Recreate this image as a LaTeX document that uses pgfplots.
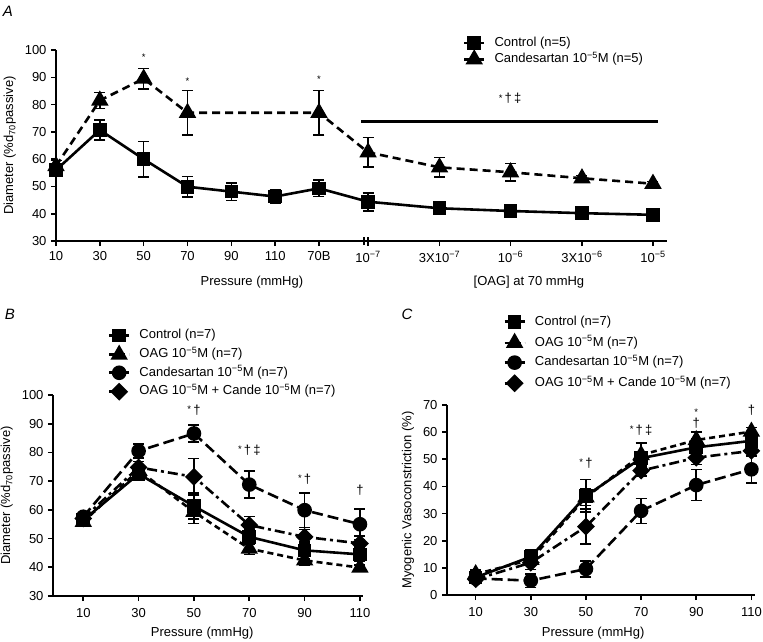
\documentclass[border=0pt]{standalone}
\usepackage{fontspec}
\setmainfont{Liberation Sans}
\usepackage{pgfplots}
\pgfplotsset{compat=1.18}
\newcommand\fz{\fontsize{13}{15}\selectfont}
\newcommand\sm{\fontsize{9.5}{10}\selectfont}
\newcommand\sus[1]{\textsuperscript{−#1}}
\newcommand\st{{\sm\raisebox{1.5pt}{*}}}
\pgfplotsset{
  panel/.style={scale only axis, axis lines=left, axis line style={-, line width=1.6pt},
    tick align=outside, major tick length=5pt, tick style={line width=1.6pt, black},
    clip=false, /pgf/number format/assume math mode=true,
    tick label style={font=\fz}, label style={font=\fz},
    legend cell align=left,
    legend style={draw=none, fill=none, inner sep=0pt, outer sep=0pt, font=\fz, anchor=north west,
      column sep=9pt, nodes={inner sep=0pt, text height=9.5pt, text depth=3pt}},
    legend image code/.code={
      \draw[mark repeat=2,mark phase=2,##1] plot coordinates {(0pt,0pt) (10pt,0pt) (20pt,0pt)};
    },
    every axis plot/.append style={black, line width=2.6pt, line cap=butt},
    error bars/y dir=both, error bars/y explicit,
    error bars/error bar style={line width=1.6pt, solid},
    error bars/error mark options={line width=1.6pt, mark size=5.5pt, solid, rotate=90},
  },
  ctrl/.style={solid, mark=square*, mark size=5.5pt, mark options={solid}},
  tri/.style={dash pattern=on 6pt off 4pt, mark=triangle*, mark size=7.5pt, mark options={solid}},
  triA/.style={dash pattern=on 8pt off 5pt, mark=triangle*, mark size=7.5pt, mark options={solid}},
  circ/.style={dash pattern=on 11pt off 5pt, mark=*, mark size=6pt, mark options={solid}},
  diam/.style={dash pattern=on 10pt off 4pt on 3pt off 4pt, mark=square*, mark size=5pt, mark options={solid, rotate=45}},
}
\begin{document}
\fz
\begin{tikzpicture}
\useasboundingbox (0,0) rectangle (763pt,-641pt);
\node[font=\fontsize{15}{17}\selectfont\itshape] at (8pt,-11pt) {A};
\node[font=\fontsize{15}{17}\selectfont\itshape] at (10pt,-314pt) {B};
\node[font=\fontsize{15}{17}\selectfont\itshape] at (407pt,-314pt) {C};

% ---------------- Panel A ----------------
\begin{axis}[panel, at={(56pt,-241pt)}, anchor=south west, width=611pt, height=191pt,
  xmin=0, xmax=13.94, ymin=30, ymax=100, ytick={30,40,...,100},
  xtick={0,1,2,3,4,5,6,7.12,8.75,10.37,12,13.62},
  xticklabels={10,30,50,70,90,110,70B,10\sus{7},3X10\sus{7},10\sus{6},3X10\sus{6},10\sus{5}},
  xticklabel shift=1pt,
  ylabel={Diameter (\%d\textsubscript{70}passive)},
  legend style={at={(0.666,1.069)}, row sep=2.5pt}]
\addplot[ctrl] coordinates {
 (0,56) +- (0,2) (1,70.7) +- (0,3.7) (2,60) +- (0,6.5) (3,49.9) +- (0,3.7)
 (4,48.1) +- (0,3.2) (5,46.3) +- (0,2.5) (6,49.3) +- (0,3) (7.12,44.4) +- (0,3.3)
 (8.75,42) +- (0,1.7) (10.37,41) +- (0,0.8) (12,40.2) +- (0,0.6) (13.62,39.6) +- (0,0.6)};
\addlegendentry{Control (n=5)}
\addplot[triA] coordinates {
 (0,57.5) +- (0,2) (1,81.5) +- (0,3) (2,89.5) +- (0,3.7) (3,77) +- (0,8.1)
 (6,77) +- (0,8.1) (7.12,62.5) +- (0,5.4) (8.75,57) +- (0,3.6) (10.37,55.2) +- (0,3.2)
 (12,53) +- (0,1) (13.62,51) +- (0,0.8)};
\addlegendentry{Candesartan 10\sus{5}M (n=5)}
\draw[line width=3pt] (axis cs:6.96,73.7) -- (axis cs:13.74,73.7);
\node[font=\sm] at (axis cs:2,97.5) {*};
\node[font=\sm] at (axis cs:3,88.7) {*};
\node[font=\sm] at (axis cs:6,89.2) {*};
\node at (axis cs:10.36,82.3) {\st\,†\,‡};
\draw[line width=1.6pt] ([yshift=-4pt]axis cs:7.03,30) -- ([yshift=4pt]axis cs:7.03,30);
\draw[line width=1.6pt] ([yshift=-4pt]axis cs:7.12,30) -- ([yshift=4pt]axis cs:7.12,30);
\node at (axis cs:4.47,30) [yshift=-41pt] {Pressure (mmHg)};
\node at (axis cs:10.79,30) [yshift=-41pt] {[OAG] at 70 mmHg};
\end{axis}

% ---------------- Panel B ----------------
\begin{axis}[panel, at={(53pt,-596pt)}, anchor=south west, width=310pt, height=201pt,
  xmin=-0.94, xmax=111.1, ymin=30, ymax=100, ytick={30,40,...,100},
  xtick={10,30,...,110}, xticklabel shift=3pt,
  ylabel={Diameter (\%d\textsubscript{70}passive)},
  legend style={at={(0.177,1.328)}, row sep=5.6pt}]
\addplot[ctrl] coordinates {
 (10,56.4) +- (0,1.5) (30,72.5) +- (0,2) (50,61.3) +- (0,4.5) (70,50.6) +- (0,2.5)
 (90,45.9) +- (0,3) (110,44.5) +- (0,2.5)};
\addlegendentry{Control (n=7)}
\addplot[tri] coordinates {
 (10,55.8) +- (0,1.5) (30,73.8) +- (0,2) (50,59.3) +- (0,4) (70,46.5) +- (0,2)
 (90,42.4) +- (0,1.5) (110,39.9) +- (0,1)};
\addlegendentry{OAG 10\sus{5}M (n=7)}
\addplot[circ] coordinates {
 (10,57.6) +- (0,1.5) (30,80.5) +- (0,2.5) (50,86.6) +- (0,3) (70,68.8) +- (0,4.7)
 (90,59.9) +- (0,6) (110,55) +- (0,5.3)};
\addlegendentry{Candesartan 10\sus{5}M (n=7)}
\addplot[diam] coordinates {
 (10,57) +- (0,1.5) (30,74.8) +- (0,2) (50,71.5) +- (0,6.4) (70,54.7) +- (0,3)
 (90,50.6) +- (0,2.5) (110,48.3) +- (0,2.5)};
\addlegendentry{OAG 10\sus{5}M + Cande 10\sus{5}M (n=7)}
\node at (axis cs:50,94.8) {\st\,†};
\node at (axis cs:70,80.8) {\st\,†\,‡};
\node at (axis cs:90,70.7) {\st\,†};
\node at (axis cs:110,67) {†};
\node at (axis cs:53,30) [yshift=-37pt] {Pressure (mmHg)};
\end{axis}

% ---------------- Panel C ----------------
\begin{axis}[panel, at={(447pt,-595pt)}, anchor=south west, width=307.7pt, height=190pt,
  xmin=-0.4, xmax=111.2, ymin=0, ymax=70, ytick={0,10,...,70},
  xtick={10,30,...,110}, xticklabel shift=3pt,
  ylabel={Myogenic Vasoconstriction (\%)},
  legend style={at={(0.183,1.471)}, row sep=7.3pt}]
\addplot[ctrl] coordinates {
 (10,6.5) +- (0,1.5) (30,14.1) +- (0,2.7) (50,36.5) +- (0,6) (70,50.4) +- (0,2.5)
 (90,54.4) +- (0,3) (110,56.8) +- (0,2)};
\addlegendentry{Control (n=7)}
\addplot[tri] coordinates {
 (10,7.7) +- (0,1.5) (30,13) +- (0,2) (50,36) +- (0,3) (70,51.6) +- (0,4.5)
 (90,57.1) +- (0,3) (110,60.2) +- (0,1.5)};
\addlegendentry{OAG 10\sus{5}M (n=7)}
\addplot[circ] coordinates {
 (10,6.1) +- (0,1.5) (30,5.3) +- (0,2.5) (50,9.6) +- (0,3) (70,31) +- (0,4.6)
 (90,40.5) +- (0,5.7) (110,46.3) +- (0,5)};
\addlegendentry{Candesartan 10\sus{5}M (n=7)}
\addplot[diam] coordinates {
 (10,5.8) +- (0,1.5) (30,11.9) +- (0,2.5) (50,25.2) +- (0,6.5) (70,45.8) +- (0,2)
 (90,50.6) +- (0,2.5) (110,53.1) +- (0,2)};
\addlegendentry{OAG 10\sus{5}M + Cande 10\sus{5}M (n=7)}
\node at (axis cs:50,48.7) {\st\,†};
\node at (axis cs:70,60.8) {\st\,†\,‡};
\node at (axis cs:90,67.2) {\st};
\node at (axis cs:90,63.3) {†};
\node at (axis cs:110,67.9) {†};
\node at (axis cs:52.6,0) [yshift=-38pt] {Pressure (mmHg)};
\end{axis}
\end{tikzpicture}
\end{document}
